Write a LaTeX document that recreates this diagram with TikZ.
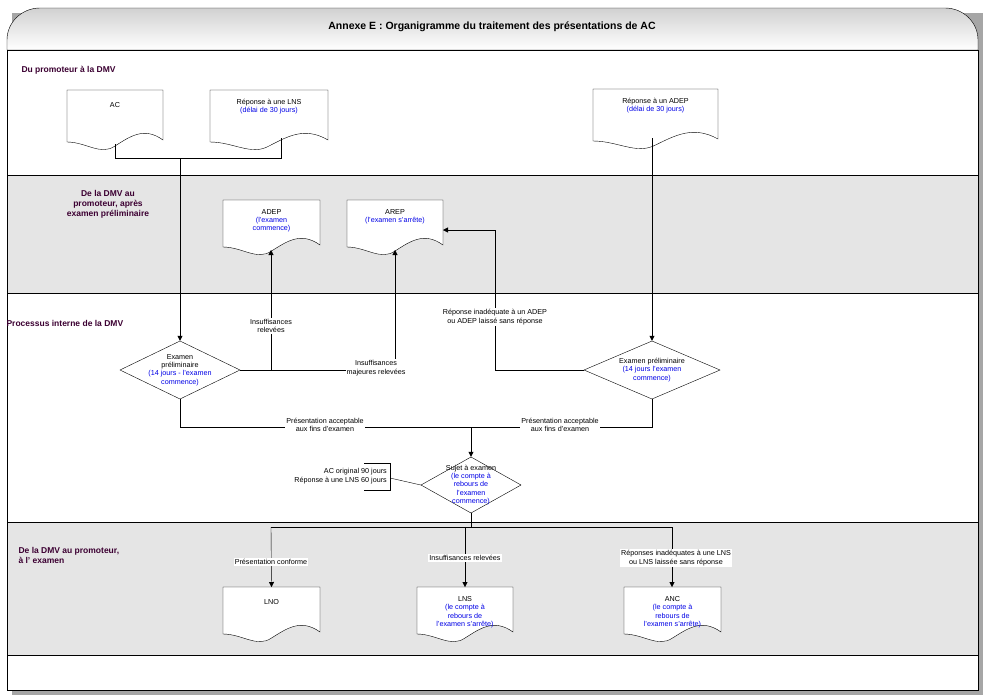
\documentclass[tikz,border=0pt]{standalone}
\usepackage{fontspec}
\setmainfont{Liberation Sans}
\usetikzlibrary{arrows.meta}
\definecolor{lanetxt}{RGB}{60,0,50}
\definecolor{bluetxt}{RGB}{0,0,230}
% wavy-bottom document: name, x, y, w, h, text
\newcommand\docbox[6]{%
  \draw[fill=white] (#2,#3) -- ++(#4,0) -- ++(0,#5-12)
    .. controls ++(-0.2*#4,-14) and ++(0.15*#4,-9) .. ++(-0.5*#4,6)
    .. controls ++(-0.15*#4,10) and ++(0.2*#4,0) .. (#2,#3+#5-10) -- cycle;
  \node[txt,anchor=north] (#1) at (#2+0.5*#4,#3+8) {#6};
}
% decision: name, x, y, w, h, text
\newcommand\decbox[6]{%
  \draw[fill=white] (#2-0.5*#4,#3) -- (#2,#3-0.5*#5) -- (#2+0.5*#4,#3) -- (#2,#3+0.5*#5) -- cycle;
  \node[txt,minimum width=#4,minimum height=#5] (#1) at (#2,#3) {#6};
}
\begin{document}
\begin{tikzpicture}[x=1pt,y=-1pt]
  \tikzset{
    txt/.style={font=\fontsize{7.2}{8.4}\selectfont,align=center,inner sep=1pt},
    lbl/.style={txt,fill=white},
    lane/.style={font=\bfseries\fontsize{8.5}{10}\selectfont,text=lanetxt,align=center},
    arr/.style={-{Triangle[length=5pt,width=5pt]}},
  }
  \useasboundingbox (0,0) rectangle (985,697);
  % frame and lanes
  \fill[black!35] (12,13) rectangle (983,695);
  \fill[black!10] (7,175) rectangle (978,293);
  \fill[black!10] (7,522) rectangle (978,655);
  \fill[white] (7,50) rectangle (978,175);
  \fill[white] (7,293) rectangle (978,522);
  \fill[white] (7,655) rectangle (978,690);
  \draw[top color=black!18,bottom color=white] (7,50) -- (7,40) to[out=90,in=180] (40,8) -- (945,8) to[out=0,in=90] (978,40) -- (978,50) -- cycle;
  \draw (7,50) rectangle (978,690);
  \foreach \y in {175,293,522,655} \draw (7,\y) -- (978,\y);
  \node[font=\bfseries\fontsize{10.5}{12}\selectfont] (title) at (492,27) {Annexe E : Organigramme du traitement des présentations de AC};
  \node[lane,anchor=west] (l1) at (18,70) {Du promoteur à la DMV};
  \node[lane] (l2) at (108,204) {De la DMV au\\promoteur, après\\examen préliminaire};
  \node[lane,anchor=west] (l3) at (3,323) {Processus interne de la DMV};
  \node[lane,anchor=west,align=left] (l4) at (15,555) {De la DMV au promoteur,\\à l' examen};

  % documents
  \docbox{ac}{67}{90}{96}{62}{\\AC}
  \docbox{rlns}{210}{90}{118}{62}{Réponse à une LNS\\\textcolor{bluetxt}{(délai de 30 jours)}}
  \docbox{radep}{593}{89}{125}{62}{Réponse à un ADEP\\\textcolor{bluetxt}{(délai de 30 jours)}}
  \docbox{adep}{223}{200}{97}{57}{ADEP\\\textcolor{bluetxt}{(l'examen}\\\textcolor{bluetxt}{commence)}}
  \docbox{arep}{347}{200}{96}{57}{AREP\\\textcolor{bluetxt}{(l'examen s'arrête)}}
  \docbox{lno}{223}{587}{97}{57}{\\LNO}
  \docbox{lns}{417}{587}{96}{57}{LNS\\\textcolor{bluetxt}{(le compte à}\\\textcolor{bluetxt}{rebours de}\\\textcolor{bluetxt}{l'examen s'arrête)}}
  \docbox{anc}{624}{587}{97}{57}{ANC\\\textcolor{bluetxt}{(le compte à}\\\textcolor{bluetxt}{rebours de}\\\textcolor{bluetxt}{l'examen s'arrête)}}
  \coordinate (acb) at (115,144);
  \coordinate (rlnsb) at (281,138);
  \coordinate (radepb) at (652,138);
  \coordinate (adepb) at (271,250);
  \coordinate (arepb) at (395,250);
  \coordinate (arepr) at (443,230);

  % decisions
  \decbox{ex1}{180}{370}{120}{58}{Examen\\préliminaire\\\textcolor{bluetxt}{(14 jours - l'examen}\\\textcolor{bluetxt}{commence)}}
  \decbox{ex2}{652}{370}{136}{58}{Examen préliminaire\\\textcolor{bluetxt}{(14 jours l'examen}\\\textcolor{bluetxt}{commence)}}
  \decbox{suj}{471}{485}{100}{56}{Sujet à examen\\\textcolor{bluetxt}{(le compte à}\\\textcolor{bluetxt}{rebours de}\\\textcolor{bluetxt}{l'examen}\\\textcolor{bluetxt}{commence)}}
  \node[txt,align=right,anchor=east] (delai) at (388,476) {AC original 90 jours\\Réponse à une LNS 60 jours};
  \draw (364,463) -| (390,490) -- (364,490);
  \draw (390,478) -- (suj.west);

  % connections
  \draw (acb) |- (rlnsb |- 0,158) -- (rlnsb);
  \draw[arr] (180,158) -- (ex1.north);
  \draw[arr] (radepb) -- (ex2.north);
  \draw[arr] (ex1.east) -- (395,370) -- (arepb);
  \draw[arr] (271,370) -- (adepb);
  \draw[arr] (ex2.west) -| (495,230) -- (arepr);
  \draw[arr] (ex1.south) |- (471,427) -- (suj.north);
  \draw (ex2.south) |- (471,427);
  \draw (suj.south) -- (471,527);
  \draw[arr] (271,527) -- (lno.north |- 0,587);
  \draw[arr] (465,527) -- (465,587);
  \draw[arr] (672,527) -- (672,587);
  \draw (271,527) -- (672,527);
  \node[lbl] (m1) at (271,326) {Insuffisances\\relevées};
  \node[lbl] (m2) at (376,368) {Insuffisances\\majeures relevées};
  \node[lbl] (m3) at (495,317) {Réponse inadéquate à un ADEP\\ou ADEP laissé sans réponse};
  \node[lbl] (m4) at (325,425) {Présentation acceptable\\aux fins d'examen};
  \node[lbl] (m5) at (560,425) {Présentation acceptable\\aux fins d'examen};
  \node[lbl] (m6) at (271,562) {Présentation conforme};
  \node[lbl] (m7) at (465,558) {Insuffisances relevées};
  \node[lbl] (m8) at (676,558) {Réponses inadéquates à une LNS\\ou LNS laissée sans réponse};
\end{tikzpicture}
\end{document}
